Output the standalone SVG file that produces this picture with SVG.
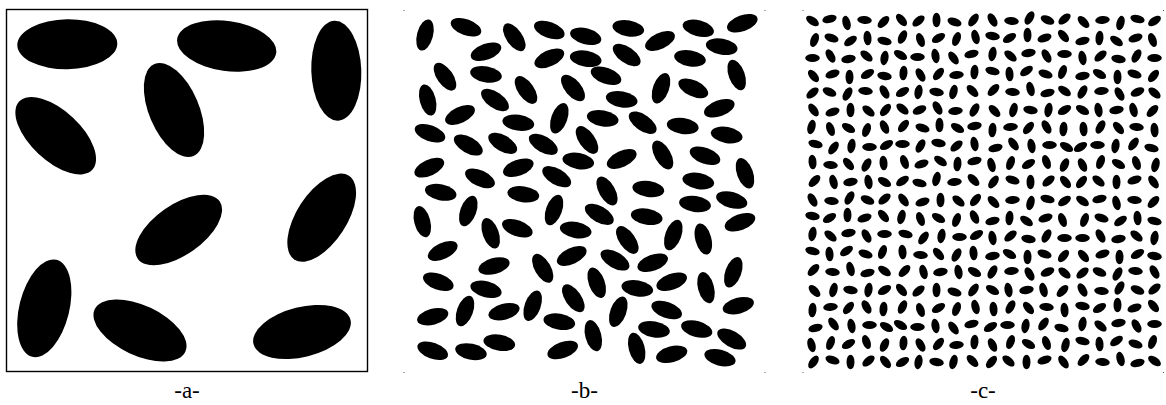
<svg xmlns="http://www.w3.org/2000/svg" xmlns:xlink="http://www.w3.org/1999/xlink" width="1166" height="405" viewBox="0 0 1166 405">
<style>
.lbl{font-family:"Liberation Serif","DejaVu Serif",serif;font-size:23px;fill:#000;text-anchor:middle}
.dot{fill:#555}
</style>
<defs>
<ellipse id="ea" cx="0" cy="0" rx="50" ry="25" fill="#000"/>
<ellipse id="eb" cx="0" cy="0" rx="16" ry="8" fill="#000"/>
<ellipse id="ec" cx="0" cy="0" rx="7.3" ry="4" fill="#000"/>
<g id="tile">
<use href="#ec" transform="translate(9,10) rotate(35)"/>
<use href="#ec" transform="translate(26,8) rotate(-15)"/>
<use href="#ec" transform="translate(43,12) rotate(75)"/>
<use href="#ec" transform="translate(61,9) rotate(5)"/>
<use href="#ec" transform="translate(80,11) rotate(-45)"/>
<use href="#ec" transform="translate(11,29) rotate(-70)"/>
<use href="#ec" transform="translate(28,27) rotate(20)"/>
<use href="#ec" transform="translate(47,30) rotate(-35)"/>
<use href="#ec" transform="translate(64,27) rotate(85)"/>
<use href="#ec" transform="translate(81,30) rotate(15)"/>
<use href="#ec" transform="translate(9,47) rotate(0)"/>
<use href="#ec" transform="translate(27,45) rotate(60)"/>
<use href="#ec" transform="translate(45,48) rotate(-10)"/>
<use href="#ec" transform="translate(63,45) rotate(40)"/>
<use href="#ec" transform="translate(81,47) rotate(-80)"/>
<use href="#ec" transform="translate(10,65) rotate(50)"/>
<use href="#ec" transform="translate(29,63) rotate(-20)"/>
<use href="#ec" transform="translate(46,66) rotate(90)"/>
<use href="#ec" transform="translate(64,63) rotate(-30)"/>
<use href="#ec" transform="translate(81,65) rotate(10)"/>
<use href="#ec" transform="translate(9,82) rotate(-40)"/>
<use href="#ec" transform="translate(26,81) rotate(25)"/>
<use href="#ec" transform="translate(44,83) rotate(-60)"/>
<use href="#ec" transform="translate(62,80) rotate(5)"/>
<use href="#ec" transform="translate(81,81) rotate(60)"/>
</g>
</defs>
<rect width="1166" height="405" fill="#fff"/>

<g id="panel-a">
<rect x="6.5" y="9.5" width="361" height="362" fill="none" stroke="#000" stroke-width="1.4"/>
<use href="#ea" transform="translate(67.3,44.3) rotate(-1)"/>
<use href="#ea" transform="translate(226.7,46) rotate(8)"/>
<use href="#ea" transform="translate(336.3,70.7) rotate(88)"/>
<use href="#ea" transform="translate(174,110) rotate(67)"/>
<use href="#ea" transform="translate(55.7,135.7) rotate(43)"/>
<use href="#ea" transform="translate(178.7,230) rotate(-35)"/>
<use href="#ea" transform="translate(321.7,217.7) rotate(-57)"/>
<use href="#ea" transform="translate(44.3,308.3) rotate(-76)"/>
<use href="#ea" transform="translate(140,330.5) rotate(25)"/>
<use href="#ea" transform="translate(302,332) rotate(-14)"/>
</g>

<g id="panel-b">
<rect class="dot" x="403.5" y="10" width="1" height="1"/>
<rect class="dot" x="764.5" y="10" width="1" height="1"/>
<rect class="dot" x="403.5" y="372" width="1" height="1"/>
<rect class="dot" x="764.5" y="372" width="1" height="1"/>
<use href="#eb" transform="translate(425,35) rotate(-75)"/>
<use href="#eb" transform="translate(466,27.3) rotate(20)"/>
<use href="#eb" transform="translate(514.3,37.3) rotate(55)"/>
<use href="#eb" transform="translate(549.3,30) rotate(20)"/>
<use href="#eb" transform="translate(585.7,36.3) rotate(15)"/>
<use href="#eb" transform="translate(486,51.7) rotate(-20)"/>
<use href="#eb" transform="translate(549.3,58.3) rotate(-25)"/>
<use href="#eb" transform="translate(585.7,58.7) rotate(10)"/>
<use href="#eb" transform="translate(445,76.7) rotate(55)"/>
<use href="#eb" transform="translate(486,74.3) rotate(10)"/>
<use href="#eb" transform="translate(526,90) rotate(55)"/>
<use href="#eb" transform="translate(573,88) rotate(50)"/>
<use href="#eb" transform="translate(427.7,100) rotate(75)"/>
<use href="#eb" transform="translate(495,100) rotate(35)"/>
<use href="#eb" transform="translate(460,115) rotate(-25)"/>
<use href="#eb" transform="translate(518.3,122.7) rotate(8)"/>
<use href="#eb" transform="translate(559.3,118.3) rotate(-70)"/>
<use href="#eb" transform="translate(430,133.3) rotate(20)"/>
<use href="#eb" transform="translate(468.3,145) rotate(30)"/>
<use href="#eb" transform="translate(502.7,143.3) rotate(30)"/>
<use href="#eb" transform="translate(543.3,144.3) rotate(30)"/>
<use href="#eb" transform="translate(587,140) rotate(55)"/>
<use href="#eb" transform="translate(429.3,167.7) rotate(-25)"/>
<use href="#eb" transform="translate(480,178.3) rotate(25)"/>
<use href="#eb" transform="translate(518.3,167.7) rotate(-20)"/>
<use href="#eb" transform="translate(556.7,176.7) rotate(30)"/>
<use href="#eb" transform="translate(578.3,161) rotate(10)"/>
<use href="#eb" transform="translate(628.3,28.3) rotate(10)"/>
<use href="#eb" transform="translate(660,41) rotate(-25)"/>
<use href="#eb" transform="translate(698.3,28.3) rotate(15)"/>
<use href="#eb" transform="translate(742.3,23.3) rotate(-20)"/>
<use href="#eb" transform="translate(721.7,46.7) rotate(10)"/>
<use href="#eb" transform="translate(626.7,55) rotate(35)"/>
<use href="#eb" transform="translate(690,58.3) rotate(10)"/>
<use href="#eb" transform="translate(606,75.7) rotate(20)"/>
<use href="#eb" transform="translate(661,88.3) rotate(-70)"/>
<use href="#eb" transform="translate(693.3,88.3) rotate(25)"/>
<use href="#eb" transform="translate(736.7,75) rotate(70)"/>
<use href="#eb" transform="translate(621.7,99.3) rotate(10)"/>
<use href="#eb" transform="translate(719.3,108.3) rotate(-20)"/>
<use href="#eb" transform="translate(602.7,118.3) rotate(10)"/>
<use href="#eb" transform="translate(642.7,122.7) rotate(35)"/>
<use href="#eb" transform="translate(682.7,126) rotate(8)"/>
<use href="#eb" transform="translate(726.7,135) rotate(10)"/>
<use href="#eb" transform="translate(662.7,155) rotate(60)"/>
<use href="#eb" transform="translate(621.7,159) rotate(-25)"/>
<use href="#eb" transform="translate(705,155.7) rotate(20)"/>
<use href="#eb" transform="translate(745,173.3) rotate(70)"/>
<use href="#eb" transform="translate(607,191) rotate(60)"/>
<use href="#eb" transform="translate(648.3,189) rotate(8)"/>
<use href="#eb" transform="translate(698.3,181) rotate(10)"/>
<use href="#eb" transform="translate(440.7,192.3) rotate(12)"/>
<use href="#eb" transform="translate(523.3,194.3) rotate(8)"/>
<use href="#eb" transform="translate(422.3,221.7) rotate(75)"/>
<use href="#eb" transform="translate(468.3,211) rotate(-70)"/>
<use href="#eb" transform="translate(490.7,233.3) rotate(70)"/>
<use href="#eb" transform="translate(517.3,228.3) rotate(20)"/>
<use href="#eb" transform="translate(554,210) rotate(-70)"/>
<use href="#eb" transform="translate(575.7,230) rotate(10)"/>
<use href="#eb" transform="translate(442.7,251) rotate(-25)"/>
<use href="#eb" transform="translate(494,266) rotate(-15)"/>
<use href="#eb" transform="translate(542.7,268.3) rotate(60)"/>
<use href="#eb" transform="translate(571.7,256) rotate(-25)"/>
<use href="#eb" transform="translate(438.3,281.7) rotate(20)"/>
<use href="#eb" transform="translate(486,289.3) rotate(15)"/>
<use href="#eb" transform="translate(465,311) rotate(-70)"/>
<use href="#eb" transform="translate(532.7,305.7) rotate(-70)"/>
<use href="#eb" transform="translate(573.3,298.3) rotate(55)"/>
<use href="#eb" transform="translate(504,311.7) rotate(-15)"/>
<use href="#eb" transform="translate(432.7,316.7) rotate(-15)"/>
<use href="#eb" transform="translate(559.3,321.7) rotate(10)"/>
<use href="#eb" transform="translate(432.7,350.7) rotate(20)"/>
<use href="#eb" transform="translate(471,351.7) rotate(12)"/>
<use href="#eb" transform="translate(499.3,342.7) rotate(10)"/>
<use href="#eb" transform="translate(562.7,350) rotate(-20)"/>
<use href="#eb" transform="translate(695,204) rotate(8)"/>
<use href="#eb" transform="translate(731.7,200) rotate(15)"/>
<use href="#eb" transform="translate(599.3,214.3) rotate(30)"/>
<use href="#eb" transform="translate(646.7,216.7) rotate(10)"/>
<use href="#eb" transform="translate(673.3,235) rotate(-70)"/>
<use href="#eb" transform="translate(703.3,239) rotate(75)"/>
<use href="#eb" transform="translate(740,222.3) rotate(-20)"/>
<use href="#eb" transform="translate(627.3,240) rotate(55)"/>
<use href="#eb" transform="translate(615,260) rotate(30)"/>
<use href="#eb" transform="translate(652.7,262.7) rotate(-20)"/>
<use href="#eb" transform="translate(733.3,272.3) rotate(-70)"/>
<use href="#eb" transform="translate(596.7,282.7) rotate(70)"/>
<use href="#eb" transform="translate(637.3,288.3) rotate(10)"/>
<use href="#eb" transform="translate(671.7,281.7) rotate(-20)"/>
<use href="#eb" transform="translate(706,287.7) rotate(75)"/>
<use href="#eb" transform="translate(618.3,311.7) rotate(-70)"/>
<use href="#eb" transform="translate(666.7,310) rotate(20)"/>
<use href="#eb" transform="translate(738.3,305.7) rotate(-15)"/>
<use href="#eb" transform="translate(593.3,335.7) rotate(75)"/>
<use href="#eb" transform="translate(654,329.3) rotate(10)"/>
<use href="#eb" transform="translate(696.7,329) rotate(15)"/>
<use href="#eb" transform="translate(731.7,339) rotate(30)"/>
<use href="#eb" transform="translate(636.7,348.3) rotate(75)"/>
<use href="#eb" transform="translate(671.7,354.3) rotate(-15)"/>
<use href="#eb" transform="translate(720,357.7) rotate(15)"/>
</g>

<g id="panel-c">
<rect class="dot" x="802.5" y="10" width="1" height="1"/>
<rect class="dot" x="1163" y="10" width="1" height="1"/>
<rect class="dot" x="802.5" y="372" width="1" height="1"/>
<rect class="dot" x="1163" y="372" width="1" height="1"/>
<use href="#tile" transform="translate(803.5,11)"/>
<use href="#tile" transform="translate(983.5,11) rotate(90)"/>
<use href="#tile" transform="translate(1073.5,101) rotate(180)"/>
<use href="#tile" transform="translate(1163.5,11) scale(-1,1)"/>
<use href="#tile" transform="translate(803.5,101) rotate(90) scale(1,-1)"/>
<use href="#tile" transform="translate(893.5,191) scale(1,-1)"/>
<use href="#tile" transform="translate(983.5,191) rotate(270)"/>
<use href="#tile" transform="translate(1163.5,191) rotate(90) scale(-1,1)"/>
<use href="#tile" transform="translate(893.5,281) rotate(180)"/>
<use href="#tile" transform="translate(893.5,191) rotate(90) scale(1,-1)"/>
<use href="#tile" transform="translate(1073.5,191) scale(-1,1)"/>
<use href="#tile" transform="translate(1073.5,191)"/>
<use href="#tile" transform="translate(803.5,371) rotate(270)"/>
<use href="#tile" transform="translate(983.5,281) rotate(90)"/>
<use href="#tile" transform="translate(1073.5,371) rotate(90) scale(-1,1)"/>
<use href="#tile" transform="translate(1163.5,371) rotate(180)"/>
</g>

<g id="labels">
<text class="lbl" x="187" y="398">-a-</text>
<text class="lbl" x="584.5" y="398">-b-</text>
<text class="lbl" x="983" y="398">-c-</text>
</g>
</svg>
